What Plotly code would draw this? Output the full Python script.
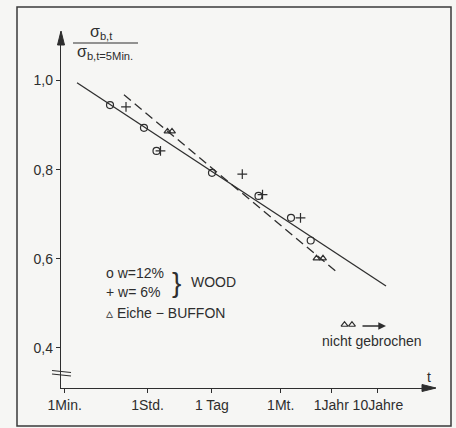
import plotly.graph_objects as go

# ---------------- data (time in minutes, ratio sigma_b,t / sigma_b,t=5min) -------------
wood12_t = [9.4, 50.3, 93.3, 1449, 14420, 71800, 190100]
wood12_y = [0.945, 0.894, 0.842, 0.793, 0.741, 0.692, 0.641]

wood6_t = [20.7, 113.7, 6470, 17580, 114800]
wood6_y = [0.941, 0.842, 0.790, 0.744, 0.692]

buffon_t = [160.7, 200.8, 253000, 349000]
buffon_y = [0.886, 0.886, 0.601, 0.601]

unbroken_t = [1.01e6, 1.46e6]
unbroken_y = [0.452, 0.452]

solid_t = [1.84, 7.85e6]
solid_y = [0.995, 0.539]

dashed_t = [18.7, 7.33e5]
dashed_y = [0.968, 0.568]

x_tickvals = [1, 60, 1440, 43200, 525600, 5256000]
x_ticktext = ["1Min.", "1Std.", "1 Tag", "1Mt.", "1Jahr", "10Jahre"]
y_tickvals = [0.4, 0.6, 0.8, 1.0]
y_ticktext = ["0,4", "0,6", "0,8", "1,0"]

# ---------------- styling ----------------
INK = "#2e2e2e"
BG = "#f6f6f4"
FONT = "Liberation Sans"

W, H = 456, 428
L, R, T, B = 61, 21, 32, 40
PW, PH = W - L - R, H - T - B


def px(x):
    return (x - L) / PW


def py(y):
    return (H - B - y) / PH


fig = go.Figure()

fig.add_trace(go.Scatter(x=solid_t, y=solid_y, mode="lines",
                         line=dict(color=INK, width=1.3), showlegend=False))
fig.add_trace(go.Scatter(x=dashed_t, y=dashed_y, mode="lines",
                         line=dict(color=INK, width=1.3, dash="9px,5px"), showlegend=False))
fig.add_trace(go.Scatter(x=wood12_t, y=wood12_y, mode="markers",
                         marker=dict(symbol="circle-open", size=7, color=INK, line=dict(width=1.2)),
                         showlegend=False))
fig.add_trace(go.Scatter(x=wood6_t, y=wood6_y, mode="markers",
                         marker=dict(symbol="cross-thin-open", size=7, color=INK, line=dict(width=1.2, color=INK)),
                         showlegend=False))
fig.add_trace(go.Scatter(x=buffon_t, y=buffon_y, mode="markers",
                         marker=dict(symbol="triangle-up-open", size=6, color=INK, line=dict(width=1.2)),
                         showlegend=False))
fig.add_trace(go.Scatter(x=unbroken_t, y=unbroken_y, mode="markers",
                         marker=dict(symbol="triangle-up-open", size=6, color=INK, line=dict(width=1.2)),
                         showlegend=False))

shapes = []
# outer frame
shapes.append(dict(type="rect", xref="paper", yref="paper",
                   x0=px(17), x1=px(451), y0=py(426), y1=py(7),
                   line=dict(color="#3a3a3a", width=1.5)))
# axis arrowheads
shapes.append(dict(type="path", xref="paper", yref="paper",
                   path=f"M {px(61)} {py(31)} L {px(57.5)} {py(45)} L {px(64.5)} {py(45)} Z",
                   fillcolor=INK, line=dict(color=INK, width=1)))
shapes.append(dict(type="path", xref="paper", yref="paper",
                   path=f"M {px(436)} {py(388)} L {px(422)} {py(384.5)} L {px(422)} {py(391.5)} Z",
                   fillcolor=INK, line=dict(color=INK, width=1)))
# axis break marks
shapes.append(dict(type="line", xref="paper", yref="paper",
                   x0=px(52), y0=py(370.5), x1=px(71), y1=py(372.5),
                   line=dict(color=INK, width=1.1)))
shapes.append(dict(type="line", xref="paper", yref="paper",
                   x0=px(52), y0=py(374), x1=px(71), y1=py(376),
                   line=dict(color=INK, width=1.1)))
# fraction bar of y-axis title
shapes.append(dict(type="line", xref="paper", yref="paper",
                   x0=px(73), y0=py(43), x1=px(138), y1=py(43),
                   line=dict(color=INK, width=1.1)))

ann = []


def txt(x, y, s, size=14, xanchor="left"):
    ann.append(dict(xref="paper", yref="paper", x=px(x), y=py(y), text=s,
                    showarrow=False, xanchor=xanchor, yanchor="middle",
                    font=dict(family=FONT, size=size, color=INK)))


txt(101, 33, "σ<sub>b,t</sub>", size=16, xanchor="center")
txt(105, 53, "σ<sub>b,t=5Min.</sub>", size=16, xanchor="center")
txt(104, 273, "o w=12%")
txt(104, 292, "+ w= 6%")
txt(104, 313, "▵ Eiche − BUFFON")
txt(170, 282, "}", size=28)
txt(189, 282, "WOOD")
txt(372, 341, "nicht gebrochen", xanchor="center")
txt(429, 377, "t", size=14, xanchor="center")
# arrow "not broken"
ann.append(dict(xref="paper", yref="paper", axref="pixel", ayref="pixel",
                x=px(386), y=py(326), ax=-25, ay=0, text="", showarrow=True,
                arrowhead=2, arrowsize=1.1, arrowwidth=1.4, arrowcolor=INK))

fig.update_layout(
    width=W, height=H,
    margin=dict(l=L, r=R, t=T, b=B),
    paper_bgcolor=BG, plot_bgcolor=BG,
    font=dict(family=FONT, size=14, color=INK),
    shapes=shapes, annotations=ann,
    showlegend=False,
)
fig.update_xaxes(type="log", range=[-0.079, 7.946], tickvals=x_tickvals, ticktext=x_ticktext,
                 showgrid=False, zeroline=False, showline=True, linecolor=INK, linewidth=1.3,
                 ticks="outside", ticklen=4, tickcolor=INK, tickwidth=1.2,
                 tickfont=dict(family=FONT, size=14, color=INK))
fig.update_yaxes(range=[0.310, 1.109], tickvals=y_tickvals, ticktext=y_ticktext,
                 showgrid=False, zeroline=False, showline=True, linecolor=INK, linewidth=1.3,
                 ticks="outside", ticklen=4, tickcolor=INK, tickwidth=1.2,
                 tickfont=dict(family=FONT, size=14, color=INK))

fig.write_html("out.html",
               config={"displayModeBar": False},
               post_script="document.body.style.margin='0';document.body.style.background='%s';" % BG)
